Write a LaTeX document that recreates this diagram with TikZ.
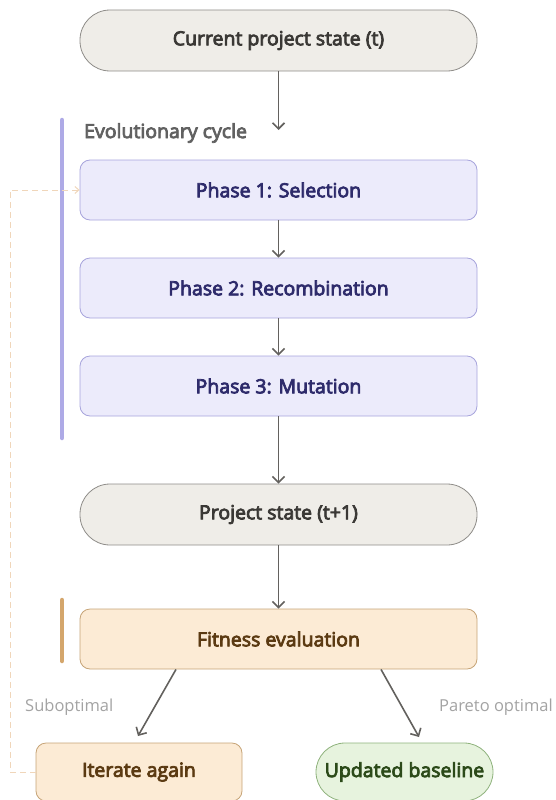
\documentclass[tikz,border=0pt]{standalone}
\usepackage{fontspec}
\setmainfont{Open Sans}
\newfontfamily\semib[FakeBold=4]{Open Sans}
\usetikzlibrary{arrows.meta,positioning}
\definecolor{grayfill}{HTML}{EFEDE8}
\definecolor{grayline}{HTML}{8E8C88}
\definecolor{graytext}{HTML}{3A3835}
\definecolor{purfill}{HTML}{ECEBFB}
\definecolor{purline}{HTML}{A7A4DC}
\definecolor{purtext}{HTML}{2E2B6B}
\definecolor{purbar}{HTML}{AEAAE6}
\definecolor{orfill}{HTML}{FCEBD5}
\definecolor{orline}{HTML}{C6A477}
\definecolor{ortext}{HTML}{5B3A12}
\definecolor{orbar}{HTML}{D4A66C}
\definecolor{grfill}{HTML}{E7F3DE}
\definecolor{grline}{HTML}{8EB27C}
\definecolor{grtext}{HTML}{2C4A19}
\definecolor{arrowc}{HTML}{63615E}
\definecolor{loopc}{HTML}{F0D6BA}
\tikzset{
  x=1pt,y=-1pt,
  base/.style={draw, line width=0.8pt, minimum height=61pt, font=\semib\fontsize{19.5}{22}\selectfont, inner sep=0pt},
  pill/.style={base, rounded corners=30pt, fill=grayfill, draw=grayline, text=graytext, minimum width=397pt},
  phase/.style={base, rounded corners=10pt, fill=purfill, draw=purline, text=purtext, minimum width=397pt, minimum height=60pt},
  fit/.style={base, rounded corners=10pt, fill=orfill, draw=orline, text=ortext},
  done/.style={base, rounded corners=29pt, fill=grfill, draw=grline, text=grtext},
  arr/.style={draw=arrowc, line width=1.6pt, -{Straight Barb[length=6pt,width=12pt]}},
  lbl/.style={font=\fontsize{16.5}{19}\selectfont, text=black!36, inner sep=0pt},
  bar/.style={line width=4.5pt, line cap=round}
}
\begin{document}
\begin{tikzpicture}
\useasboundingbox (0,0) rectangle (555,800);
\node[pill] (cur) at (278.5,40.5) {Current project state (t)};
\node[phase] (p1) at (278.5,190) {Phase 1: Selection};
\node[phase] (p2) at (278.5,288) {Phase 2: Recombination};
\node[phase] (p3) at (278.5,386) {Phase 3: Mutation};
\node[pill] (next) at (278.5,514.5) {Project state (t+1)};
\node[fit, minimum width=397pt, minimum height=60pt] (fitn) at (278.5,639) {Fitness evaluation};
\node[fit, minimum width=206pt, minimum height=58pt] (iter) at (139,772) {Iterate again};
\node[done, minimum width=177pt, minimum height=58pt] (upd) at (404.5,772) {Updated baseline};
\node[anchor=west, font=\semib\fontsize{19.5}{22}\selectfont, text=black!62, inner sep=0pt] (evo) at (84,133) {Evolutionary cycle};
\node[lbl, anchor=west] (sub) at (25,707) {Suboptimal};
\node[lbl, anchor=east] (par) at (553,707) {Pareto optimal};
\draw[bar, draw=purbar] (62,120) -- (62,438);
\draw[bar, draw=orbar] (62,600) -- (62,661);
\draw[arr] (cur) -- (278.5,130);
\draw[arr] (p1) -- (p2);
\draw[arr] (p2) -- (p3);
\draw[arr] (p3) -- (next);
\draw[arr] (next) -- (fitn);
\draw[arr] (fitn.south -| 176,0) -- (138,736);
\draw[arr] (fitn.south -| 381,0) -- (419,737);
\draw[draw=loopc, line width=1pt, dashed, dash pattern=on 6pt off 4pt, -{Straight Barb[length=4pt,width=7pt]}]
  (iter.west) -- (10,772) -- (10,190) -- (p1.west);
\end{tikzpicture}
\end{document}
